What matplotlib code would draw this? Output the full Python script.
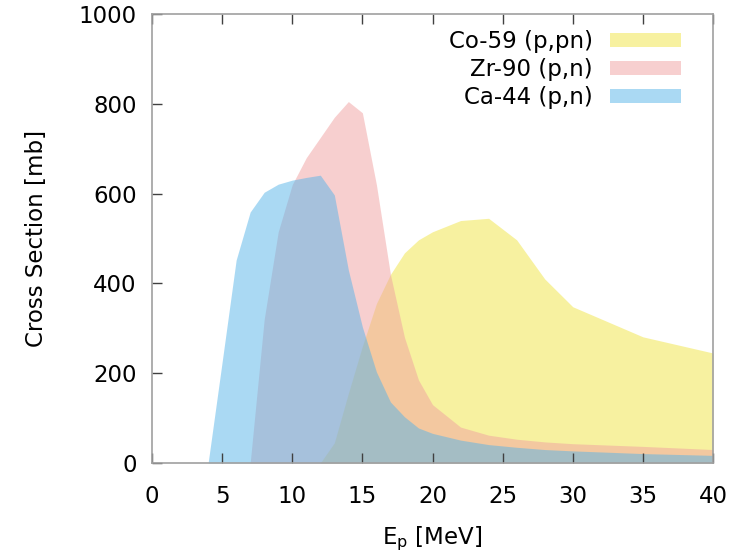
import numpy as np
import matplotlib
matplotlib.use("Agg")
import matplotlib.pyplot as plt

# proton energy [MeV] and cross sections [mb]
co59_e = [12, 13, 14, 15, 16, 17, 18, 19, 20, 22, 24, 26, 28, 30, 35, 40]
co59_xs = [0, 45, 155, 260, 355, 420, 468, 497, 515, 540, 545, 497, 410, 348, 281, 245]

zr90_e = [7, 8, 9, 10, 11, 12, 13, 14, 15, 16, 17, 18, 19, 20, 22, 24, 26, 28, 30, 35, 40]
zr90_xs = [0, 320, 515, 620, 680, 725, 770, 805, 780, 620, 420, 280, 185, 130, 80, 62, 53, 47, 43, 37, 30]

ca44_e = [4, 5, 6, 7, 8, 9, 10, 11, 12, 13, 14, 15, 16, 17, 18, 19, 20, 22, 24, 26, 28, 30, 35, 40]
ca44_xs = [0, 225, 452, 559, 603, 621, 630, 636, 641, 597, 430, 303, 203, 136, 103, 78, 66, 51, 41, 35, 30, 27, 21, 17]

series = [
    ("Co-59 (p,pn)", co59_e, co59_xs, "#f0e442"),
    ("Zr-90 (p,n)", zr90_e, zr90_xs, "#f0a0a0"),
    ("Ca-44 (p,n)", ca44_e, ca44_xs, "#56b4e9"),
]

fs = 16.5
plt.rcParams["font.family"] = "DejaVu Sans"
fig = plt.figure(figsize=(7.53, 5.55), dpi=100)
ax = fig.add_axes([152 / 753, 1 - 463 / 555, 561 / 753, 449 / 555])

for label, e, xs, col in series:
    ax.fill_between(e, 0, xs, color=col, alpha=0.5, lw=0, label=label)

ax.set_xlim(0, 40)
ax.set_ylim(0, 1000)
ax.set_xticks(np.arange(0, 41, 5))
ax.set_yticks(np.arange(0, 1001, 200))

for s in ax.spines.values():
    s.set_color("#a0a0a0")
    s.set_linewidth(1.2)
ax.tick_params(direction="in", length=7, width=1, color="#404040",
               top=True, right=False, labelsize=fs)
ax.tick_params(axis="x", pad=16)
ax.tick_params(axis="y", pad=11)

ax.set_xlabel("E$_\\mathregular{p}$ [MeV]", fontsize=fs, labelpad=12)
ax.set_ylabel("Cross Section [mb]", fontsize=fs, labelpad=22)

leg = ax.legend(loc="upper right", bbox_to_anchor=(1, 1 + 16 / 449),
                frameon=False, markerfirst=False,
                fontsize=fs, handlelength=3.1, handleheight=0.6,
                labelspacing=0.22, borderaxespad=1.0, handletextpad=0.75)
for t in leg.get_texts():
    t.set_ha("right")

fig.savefig("out.png", dpi=100)
